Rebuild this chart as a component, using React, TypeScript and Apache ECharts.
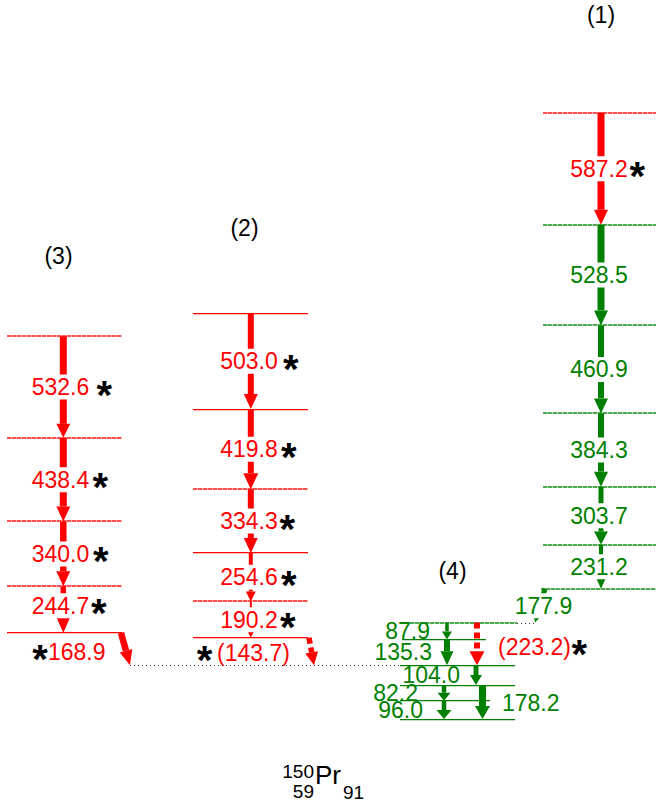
import React, { useEffect, useRef } from "react";
import * as echarts from "echarts";

// ---------------- data (keV) ----------------
const band1Levels = [3179.1, 2591.9, 2063.4, 1602.5, 1218.2, 914.5, 683.3];
const band1Gammas = [587.2, 528.5, 460.9, 384.3, 303.7, 231.2];
const band1New = [true, false, false, false, false, false];

const band2Levels = [2127.8, 1624.8, 1205.0, 870.7, 616.1, 425.9];
const band2Gammas = [503.0, 419.8, 334.3, 254.6, 190.2];

const band3Levels = [2006.8, 1474.2, 1035.8, 695.8, 451.1];
const band3Gammas = [532.6, 438.4, 340.0, 244.7];

const band4Levels = [505.4, 417.5, 282.2, 178.2, 96.0, 0];
const band4Gammas = [87.9, 135.3, 223.2, 104.0, 82.2, 96.0, 178.2];
const band4From = [505.4, 417.5, 505.4, 282.2, 178.2, 96.0, 178.2];
const band4To = [417.5, 282.2, 282.2, 178.2, 96.0, 0, 0];
const band4New = [false, false, true, false, false, false, false];

const linkGammas = [177.9, 168.9, 143.7];
const linkFrom = [683.3, 451.1, 425.9];
const linkTo = [505.4, 282.2, 282.2];
const linkNew = [false, true, true];

const bandNames = ["(1)", "(2)", "(3)", "(4)"];
const nucleusParts = ["150", "59", "Pr", "91"];

// ---------------- styling / layout ----------------
const RED = "#ff0000";
const GREEN = "#008000";
const BLACK = "#000000";
const FONT = '"Liberation Sans", Arial, Helvetica, sans-serif';
const NUM_SIZE = 23;
const STAR_SIZE = 40;
const STAR_DY = 7.5;
const Y_MAX = 3770;

type LineKind = "solid" | "dotted" | "sparse";
type Level = { x1: number; x2: number; e: number; color: string; kind: LineKind };
type Arrow = { x1: number; e1: number; x2: number; e2: number; color: string; bw: number; hw: number; hl: number; dashed?: boolean };
type Label = { text: string; x: number; e: number; dy: number; align: "left" | "center" | "right"; color: string; bg: boolean; star?: number };

const levels: Level[] = [];
const arrows: Arrow[] = [];
const labels: Label[] = [];

// band 1
band1Levels.forEach((e, i) =>
  levels.push({ x1: i === band1Levels.length - 1 ? 541 : 543, x2: 656, e, color: i === 0 ? RED : GREEN, kind: "dotted" })
);
const b1Arrow = [[7, 14, 15], [7, 14, 15], [6, 14, 15], [6, 14, 15], [5, 14, 13], [4, 9, 10]];
band1Gammas.forEach((g, i) => {
  const c = band1New[i] ? RED : GREEN;
  const [bw, hw, hl] = b1Arrow[i];
  arrows.push({ x1: 601, e1: band1Levels[i], x2: 601, e2: band1Levels[i + 1], color: c, bw, hw, hl });
  labels.push({ text: g.toFixed(1), x: 599, e: (band1Levels[i] + band1Levels[i + 1]) / 2, dy: 0, align: "center", color: c, bg: true, star: band1New[i] ? 9.5 : undefined });
});

// band 2
const b2Dash = [false, false, true, false, true, false];
band2Levels.forEach((e, i) => levels.push({ x1: 193, x2: 308, e, color: RED, kind: b2Dash[i] ? "dotted" : "solid" }));
const b2Arrow = [[6, 14, 15], [6, 15, 16], [6, 14, 15], [4, 10, 10], [2, 6, 6]];
const b2Star = [13, 11, 9.5, 11, 10];
band2Gammas.forEach((g, i) => {
  const [bw, hw, hl] = b2Arrow[i];
  arrows.push({ x1: 250.8, e1: band2Levels[i], x2: 250.8, e2: band2Levels[i + 1], color: RED, bw, hw, hl });
  labels.push({ text: g.toFixed(1), x: 249, e: (band2Levels[i] + band2Levels[i + 1]) / 2, dy: 0, align: "center", color: RED, bg: true, star: b2Star[i] });
});

// band 3
const b3Dash = [true, true, true, true, false];
band3Levels.forEach((e, i) => levels.push({ x1: 7, x2: 122, e, color: RED, kind: b3Dash[i] ? "dotted" : "solid" }));
const b3Arrow = [[7, 14, 14], [7, 14, 15], [6.5, 14, 15], [5.5, 13, 15]];
const b3Star = [15, 11, 11.5, 9.5];
const b3Dy = [0, 0, 0, -4];
band3Gammas.forEach((g, i) => {
  const [bw, hw, hl] = b3Arrow[i];
  arrows.push({ x1: 63.3, e1: band3Levels[i], x2: 63.3, e2: band3Levels[i + 1], color: RED, bw, hw, hl });
  labels.push({ text: g.toFixed(1), x: 60.5, e: (band3Levels[i] + band3Levels[i + 1]) / 2, dy: b3Dy[i], align: "center", color: RED, bg: true, star: b3Star[i] });
});

// band 4
const b4Span = [[400, 517], [402, 486], [400, 515], [400, 515], [400, 490], [400, 515]];
band4Levels.forEach((e, i) => levels.push({ x1: b4Span[i][0], x2: b4Span[i][1], e, color: GREEN, kind: i === 0 ? "dotted" : "solid" }));
levels.push({ x1: 130, x2: 400, e: band4Levels[2], color: "#333333", kind: "sparse" });
levels.push({ x1: 517, x2: 537, e: band4Levels[0], color: "#333333", kind: "sparse" });
const b4ArrowX = [447, 447, 477, 476, 444, 444, 482.5];
const b4Arrow = [[3.5, 10, 8], [6, 13, 14], [6, 15, 14], [5, 12, 10], [4.5, 13, 8], [4.5, 15, 9], [7, 15, 13]];
const b4LabelX = [430, 432, 498, 460, 418, 423, 502];
const b4Align: ("left" | "right")[] = ["right", "right", "left", "right", "right", "right", "left"];
const b4Dy = [0, 0, 3, 0, 0, 0, 1];
band4Gammas.forEach((g, i) => {
  const c = band4New[i] ? RED : GREEN;
  const [bw, hw, hl] = b4Arrow[i];
  arrows.push({ x1: b4ArrowX[i], e1: band4From[i], x2: b4ArrowX[i], e2: band4To[i], color: c, bw, hw, hl, dashed: band4New[i] });
  labels.push({
    text: band4New[i] ? `(${g.toFixed(1)})` : g.toFixed(1),
    x: b4LabelX[i], e: (band4From[i] + band4To[i]) / 2, dy: b4Dy[i], align: b4Align[i], color: c, bg: false,
    star: band4New[i] ? 8.5 : undefined,
  });
});

// inter-band links
const linkX1 = [545, 121, 309];
const linkX2 = [535, 130, 314];
const linkArrow = [[5, 6, 6], [6.5, 13, 15], [5.5, 13, 13]];
const linkLabelX = [543.5, 48, 217];
const linkAlign: ("left" | "center")[] = ["center", "left", "left"];
const linkDy = [0, 2.5, 1.5];
const linkStar = [undefined, -8, -12.5];
linkGammas.forEach((g, i) => {
  const c = linkNew[i] ? RED : GREEN;
  const [bw, hw, hl] = linkArrow[i];
  arrows.push({ x1: linkX1[i], e1: linkFrom[i], x2: linkX2[i], e2: linkTo[i], color: c, bw, hw, hl, dashed: i === 2 });
  labels.push({
    text: i === 2 ? `(${g.toFixed(1)})` : g.toFixed(1),
    x: linkLabelX[i], e: (linkFrom[i] + linkTo[i]) / 2, dy: linkDy[i], align: linkAlign[i], color: c, bg: i === 0, star: linkStar[i],
  });
});

const bandNamePos = [[601, 15], [244.5, 228], [58.5, 256], [452.5, 571]];

let measureCtx: CanvasRenderingContext2D | null = null;
function measure(text: string, size: number): number {
  if (!measureCtx) measureCtx = document.createElement("canvas").getContext("2d");
  if (!measureCtx) return text.length * size * 0.55;
  measureCtx.font = `${size}px ${FONT}`;
  return measureCtx.measureText(text).width;
}

export default function App() {
  const ref = useRef<HTMLDivElement>(null);
  useEffect(() => {
    document.body.style.margin = "0";
    const chart = echarts.init(ref.current!, null, { renderer: "svg" });

    const option: any = {
      animation: false,
      backgroundColor: "#ffffff",
      grid: { left: 0, right: 0, top: 0, bottom: 85 },
      xAxis: { type: "value", min: 0, max: 656, show: false },
      yAxis: { type: "value", min: 0, max: Y_MAX, show: false },
      tooltip: { show: false },
      series: [
        {
          type: "custom",
          silent: true,
          z: 1,
          data: levels.map((l) => [l.x1, l.x2, l.e]),
          renderItem: (params: any, api: any) => {
            const l = levels[params.dataIndex];
            const p1 = api.coord([api.value(0), api.value(2)]);
            const p2 = api.coord([api.value(1), api.value(2)]);
            const x1 = p1[0], x2 = p2[0];
            if (l.kind === "solid") {
              return {
                type: "rect",
                shape: { x: x1, y: Math.floor(p1[1]), width: x2 - x1, height: 1.2 },
                style: { fill: l.color },
              };
            }
            if (l.kind === "sparse") {
              const y = Math.round(p1[1]) + 0.5;
              return { type: "line", shape: { x1, y1: y, x2, y2: y }, style: { stroke: l.color, lineWidth: 1, lineDash: [1, 3] } };
            }
            const y = Math.round(p1[1]);
            return {
              type: "group",
              children: [
                { type: "line", shape: { x1, y1: y, x2, y2: y }, style: { stroke: l.color, lineWidth: 2, opacity: 0.3 } },
                { type: "line", shape: { x1, y1: y, x2, y2: y }, style: { stroke: l.color, lineWidth: 2, opacity: 0.55, lineDash: [4, 1] } },
              ],
            };
          },
        },
        {
          type: "custom",
          silent: true,
          z: 2,
          data: arrows.map((a) => [a.x1, a.e1, a.x2, a.e2]),
          renderItem: (params: any, api: any) => {
            const a = arrows[params.dataIndex];
            const p1 = api.coord([api.value(0), api.value(1)]);
            const p2 = api.coord([api.value(2), api.value(3)]);
            const dx = p2[0] - p1[0];
            const dy = p2[1] - p1[1];
            const len = Math.hypot(dx, dy);
            const ux = dx / len, uy = dy / len;
            const nx = -uy, ny = ux;
            const bx = p2[0] - ux * a.hl, by = p2[1] - uy * a.hl;
            const children: any[] = [];
            if (a.dashed) {
              children.push({
                type: "line",
                shape: { x1: p1[0], y1: p1[1], x2: bx, y2: by },
                style: { stroke: a.color, lineWidth: a.bw, lineDash: [6, 4], lineCap: "butt" },
              });
            } else {
              const h = a.bw / 2;
              children.push({
                type: "polygon",
                shape: { points: [[p1[0] + nx * h, p1[1] + ny * h], [bx + nx * h, by + ny * h], [bx - nx * h, by - ny * h], [p1[0] - nx * h, p1[1] - ny * h]] },
                style: { fill: a.color },
              });
            }
            const hh = a.hw / 2;
            children.push({
              type: "polygon",
              shape: { points: [[bx + nx * hh, by + ny * hh], [p2[0], p2[1]], [bx - nx * hh, by - ny * hh]] },
              style: { fill: a.color },
            });
            return { type: "group", children };
          },
        },
        {
          type: "custom",
          silent: true,
          z: 3,
          data: labels.map((l) => [l.x, l.e]),
          renderItem: (params: any, api: any) => {
            const L = labels[params.dataIndex];
            const p = api.coord([api.value(0), api.value(1)]);
            const y = p[1] + L.dy;
            const w = measure(L.text, NUM_SIZE);
            const left = L.align === "left" ? p[0] : L.align === "right" ? p[0] - w : p[0] - w / 2;
            const style: any = {
              text: L.text, x: left, y, align: "left", verticalAlign: "middle",
              fill: L.color, fontSize: NUM_SIZE, fontFamily: FONT,
            };
            if (L.bg) {
              style.backgroundColor = "#ffffff";
              style.padding = [1, 0];
            }
            const children: any[] = [{ type: "text", style }];
            if (L.star !== undefined) {
              const sx = L.star > 0 ? left + w + L.star : left + L.star;
              children.push({
                type: "text",
                style: {
                  text: "*", x: sx, y: y + STAR_DY, align: "center", verticalAlign: "middle",
                  fill: BLACK, fontSize: STAR_SIZE, fontWeight: "bold", fontFamily: FONT,
                },
              });
            }
            return { type: "group", children };
          },
        },
      ],
      graphic: [
        ...bandNames.map((t, i) => ({
          type: "text",
          x: bandNamePos[i][0],
          y: bandNamePos[i][1],
          style: { text: t, align: "center", verticalAlign: "middle", fill: BLACK, fontSize: 23, fontFamily: FONT },
        })),
        { type: "text", x: 314, y: 771, style: { text: nucleusParts[0], align: "right", verticalAlign: "middle", fill: BLACK, fontSize: 19, fontFamily: FONT } },
        { type: "text", x: 314, y: 791, style: { text: nucleusParts[1], align: "right", verticalAlign: "middle", fill: BLACK, fontSize: 19, fontFamily: FONT } },
        { type: "text", x: 315, y: 775, style: { text: nucleusParts[2], align: "left", verticalAlign: "middle", fill: BLACK, fontSize: 26, fontFamily: FONT } },
        { type: "text", x: 343, y: 792, style: { text: nucleusParts[3], align: "left", verticalAlign: "middle", fill: BLACK, fontSize: 19, fontFamily: FONT } },
      ],
    };
    chart.setOption(option);
    return () => chart.dispose();
  }, []);
  return <div ref={ref} style={{ width: 656, height: 804 }} />;
}
